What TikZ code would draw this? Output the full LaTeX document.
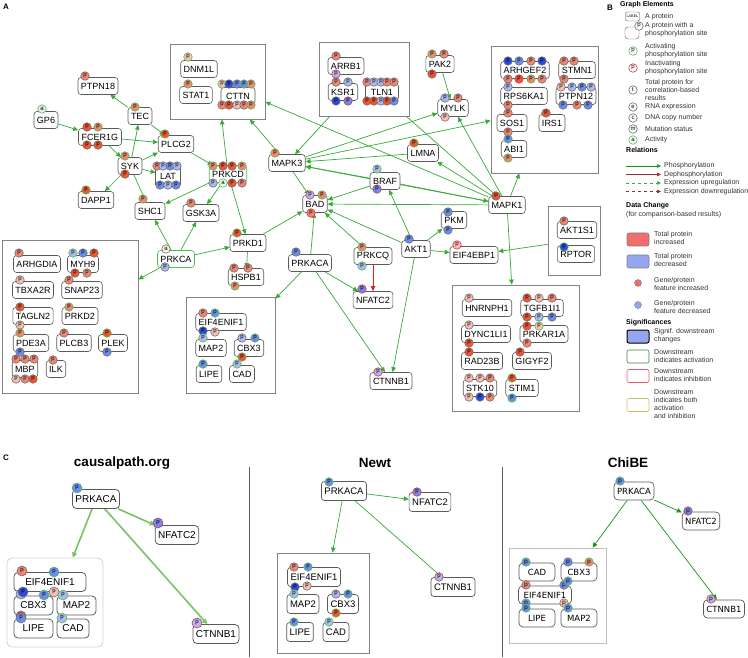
\documentclass[tikz,border=0pt]{standalone}
\usepackage{fontspec}
\setmainfont{Liberation Sans}
\newfontfamily\chibefont{DejaVu Sans}
\usepackage{xcolor}
\usetikzlibrary{arrows.meta}
\definecolor{site_red}{RGB}{240,85,50}
\definecolor{site_salmon}{RGB}{240,135,115}
\definecolor{site_pink}{RGB}{246,192,178}
\definecolor{site_navy}{RGB}{45,75,225}
\definecolor{site_blue}{RGB}{110,140,235}
\definecolor{site_sky}{RGB}{172,187,240}
\definecolor{site_gray}{RGB}{110,110,110}
\definecolor{act_green}{RGB}{80,190,80}
\definecolor{inh_red}{RGB}{220,50,70}
\definecolor{edge_green}{RGB}{55,170,55}
\definecolor{edge_red}{RGB}{230,30,30}
\definecolor{dark_red}{RGB}{150,45,45}
\definecolor{box_gray}{RGB}{130,130,130}
\definecolor{node_gray}{RGB}{90,90,90}
\definecolor{leg_text}{RGB}{50,50,50}
\definecolor{tot_red}{RGB}{240,110,110}
\definecolor{tot_blue}{RGB}{150,165,240}
\definecolor{both_yellow}{RGB}{200,190,90}
\definecolor{causal_green}{RGB}{120,195,100}
\definecolor{chibe_green}{RGB}{20,150,20}

\pgfdeclarelayer{background}
\pgfsetlayers{background,main}

\tikzset{
  prot/.style={draw=node_gray, fill=white, rounded corners=3pt, line width=0.6pt,
    minimum height=17pt, inner xsep=3pt, inner ysep=1pt, font=\fontsize{9}{10}\selectfont},
  cbox/.style={draw=box_gray, line width=0.8pt, inner sep=0pt},
  site/.style={circle, inner sep=0pt, minimum size=8.5pt, line width=0.6pt,
    font=\fontsize{6}{6}\selectfont},
  pedge/.style={draw=edge_green, line width=0.7pt, -{Triangle[length=5pt,width=4.5pt]}},
  panel/.style={font=\fontsize{8}{8}\selectfont\bfseries},
  legtext/.style={anchor=west, align=left, text=leg_text, inner sep=0pt,
    font=\fontsize{7}{8}\selectfont},
  leghead/.style={anchor=west, inner sep=0pt, font=\fontsize{7}{8}\selectfont\bfseries},
  legbox/.style={draw=gray, rounded corners=2pt, minimum width=22pt, minimum height=13pt, line width=0.6pt},
  ctitle/.style={font=\fontsize{13.5}{14}\selectfont\bfseries},
}

% phosphorylation site: [border]{x}{y}{fill}
\newcount\sitecnt
\newcommand{\site}[4][site_gray]{%
  \global\advance\sitecnt by 1
  \node[site, fill=#4, draw=#1] (site\the\sitecnt) at (#2,#3) {p};}

\begin{document}
\begin{tikzpicture}[x=1pt, y=-1pt]
\useasboundingbox (0,0) rectangle (748,658);

% Panel labels
\node[panel] (labA) at (6,7) {A};
\node[panel] (labB) at (610,8) {B};
\node[panel] (labC) at (6,458) {C};

%% ---------------- Panel A ----------------
% Complexes
\node[cbox, minimum width=95pt, minimum height=75pt] (cttnbox) at (217.5,81.5) {};
\node[cbox, minimum width=90pt, minimum height=74pt] (tlnbox) at (364,79) {};
\node[cbox, minimum width=107pt, minimum height=127pt] (mapkbox) at (544.5,109.5) {};
\node[cbox, minimum width=136pt, minimum height=153pt] (leftbox) at (70,316.5) {};
\node[cbox, minimum width=89pt, minimum height=96pt] (pkabox) at (230.5,345) {};
\node[cbox, minimum width=52pt, minimum height=69pt] (torbox) at (574,240.5) {};
\node[cbox, minimum width=127pt, minimum height=126pt] (erkbox) at (515.5,348) {};

% Proteins
\node[prot] (dnm1l) at (199,69) {DNM1L};
\node[prot] (stat1) at (196,95) {STAT1};
\node[prot, minimum width=34pt] (cttn) at (238,96) {CTTN};
\node[prot] (arrb1) at (346,66) {ARRB1};
\node[prot] (ksr1) at (343,92) {KSR1};
\node[prot, minimum width=33pt] (tln1) at (382,92) {TLN1};
\node[prot] (arhgef2) at (525,70) {ARHGEF2};
\node[prot] (stmn1) at (577,70) {STMN1};
\node[prot] (rps6ka1) at (524,96) {RPS6KA1};
\node[prot] (ptpn12) at (576,96) {PTPN12};
\node[prot] (sos1) at (512,123) {SOS1};
\node[prot] (irs1) at (552,123) {IRS1};
\node[prot] (abi1) at (514,149) {ABI1};
\node[prot] (pak2) at (440,64) {PAK2};
\node[prot] (mylk) at (453,108) {MYLK};
\node[prot] (ptpn18) at (98,86) {PTPN18};
\node[prot] (gp6) at (46,120) {GP6};
\node[prot] (tec) at (140,116) {TEC};
\node[prot, minimum width=43pt] (fcer1g) at (100,137) {FCER1G};
\node[prot] (plcg2) at (176,144) {PLCG2};
\node[prot] (syk) at (130,166) {SYK};
\node[prot, minimum width=24pt, draw=none, fill=none] (lat) at (168,176) {LAT};
\draw[node_gray, line width=0.6pt] (lat.south west) rectangle (lat.north east);
\node[prot, draw=act_green] (prkcd) at (228,174) {PRKCD};
\node[prot] (mapk3) at (287,163) {MAPK3};
\node[prot] (lmna) at (423,153) {LMNA};
\node[prot] (braf) at (385,181) {BRAF};
\node[prot] (bad) at (315,204) {BAD};
\node[prot] (mapk1) at (507,205) {MAPK1};
\node[prot] (dapp1) at (96,200) {DAPP1};
\node[prot] (shc1) at (150,211) {SHC1};
\node[prot] (gsk3a) at (201,213) {GSK3A};
\node[prot, draw=act_green] (prkca) at (176,259) {PRKCA};
\node[prot] (prkd1) at (248,243) {PRKD1};
\node[prot] (hspb1) at (246,277) {HSPB1};
\node[prot] (prkaca) at (310,263) {PRKACA};
\node[prot] (prkcq) at (373,256) {PRKCQ};
\node[prot] (nfatc2) at (373,300) {NFATC2};
\node[prot] (ctnnb1) at (391,381) {CTNNB1};
\node[prot] (akt1) at (416,249) {AKT1};
\node[prot] (pkm) at (454,220) {PKM};
\node[prot] (eif4ebp1) at (474,255) {EIF4EBP1};
\node[prot] (akt1s1) at (577,230) {AKT1S1};
\node[prot] (rptor) at (576,254) {RPTOR};
\node[prot] (arhgdia) at (37,264) {ARHGDIA};
\node[prot] (myh9) at (83,264) {MYH9};
\node[prot] (tbxa2r) at (33,290) {TBXA2R};
\node[prot] (snap23) at (82,290) {SNAP23};
\node[prot] (tagln2) at (33,316) {TAGLN2};
\node[prot] (prkd2) at (80,316) {PRKD2};
\node[prot] (pde3a) at (31,343) {PDE3A};
\node[prot] (plcb3) at (74,343) {PLCB3};
\node[prot] (plek) at (113,343) {PLEK};
\node[prot, minimum width=25pt] (mbp) at (25,369) {MBP};
\node[prot] (ilk) at (56,369) {ILK};
\node[prot] (eif4enif1) at (221,322) {EIF4ENIF1};
\node[prot] (map2) at (211,348) {MAP2};
\node[prot] (cbx3) at (249,348) {CBX3};
\node[prot] (lipe) at (209,374) {LIPE};
\node[prot] (cad) at (242,374) {CAD};
\node[prot] (hnrnph1) at (487,308) {HNRNPH1};
\node[prot] (tgfb1i1) at (542,308) {TGFB1I1};
\node[prot] (dync1li1) at (486,334) {DYNC1LI1};
\node[prot] (prkar1a) at (544,334) {PRKAR1A};
\node[prot] (rad23b) at (482,361) {RAD23B};
\node[prot] (gigyf2) at (532,361) {GIGYF2};
\node[prot] (stk10) at (480,388) {STK10};
\node[prot] (stim1) at (522,388) {STIM1};

% Sites
\site[act_green]{188}{57}{site_pink}
\site[act_green]{188}{84}{site_salmon}
\site[act_green]{222}{84}{site_pink} \site{229}{84}{site_navy} \site{237}{84}{site_blue}
\site[act_green]{244}{84}{site_blue} \site[act_green]{251}{84}{site_salmon}
\site{222}{105}{site_salmon} \site{229}{105}{site_red} \site{237}{105}{site_pink}
\site{244}{105}{site_salmon} \site[act_green]{251}{105}{site_salmon}
\site{336}{56}{site_salmon} \site[inh_red]{336}{74}{site_sky}
\site{336}{82}{site_salmon} \site{348}{82}{site_sky} \site{336}{101}{site_navy} \site[inh_red]{348}{101}{site_blue}
\site{367}{82}{site_salmon} \site{374}{82}{site_sky} \site{381}{82}{site_sky} \site{387}{82}{site_salmon} \site{394}{82}{site_salmon}
\site{367}{101}{site_red} \site{374}{101}{site_red} \site{381}{101}{site_sky} \site{387}{101}{site_red} \site{394}{101}{site_blue}
\site[act_green]{432}{54}{site_salmon} \site{444}{54}{site_salmon} \site{432}{74}{site_red}
\site{445}{98}{site_sky} \site{458}{98}{site_salmon} \site{445}{117}{site_pink}
\site{508}{61}{site_navy} \site{519}{61}{site_blue} \site{531}{61}{site_salmon} \site{542}{61}{site_navy}
\site{508}{79}{site_salmon} \site[inh_red]{519}{79}{site_red} \site[act_green]{531}{79}{site_salmon} \site{542}{79}{site_salmon}
\site{564}{61}{site_salmon} \site{574}{61}{site_salmon} \site{564}{79}{site_salmon}
\site{508}{87}{site_sky} \site{508}{105}{site_salmon}
\site{561}{87}{site_pink} \site{572}{87}{site_sky} \site{582}{87}{site_blue} \site{591}{87}{site_sky}
\site{563}{105}{site_blue} \site{577}{105}{site_salmon} \site{588}{105}{site_blue}
\site{508}{113}{site_salmon} \site{508}{132}{site_salmon} \site{546}{113}{site_red}
\site[act_green]{508}{139}{site_blue} \site[act_green]{508}{158}{site_salmon}
\site{85}{76}{site_salmon}
\node[site, fill=white!92!black, draw=act_green] (gp6act) at (42,109) {a};
\site[act_green]{135}{107}{site_salmon}
\site{87}{127}{site_red} \site[act_green]{98}{127}{site_salmon} \site{87}{145}{site_red} \site{98}{145}{site_red}
\site[act_green]{165}{134}{site_red}
\site[act_green]{125}{156}{site_salmon} \site{125}{174}{site_red}
\site{157}{166}{site_salmon} \site{163}{166}{site_sky} \site{170}{166}{site_blue} \site{177}{166}{site_sky}
\site{160}{185}{site_blue} \site{168}{185}{site_sky} \site{176}{185}{site_blue}
\site[act_green]{213}{166}{site_salmon} \site{223}{166}{site_red} \site{232}{166}{site_red} \site[act_green]{242}{166}{site_salmon}
\site{213}{183}{site_sky}
\node[site, fill=green!8, draw=act_green] (prkcdact) at (223,183) {a};
\site{232}{183}{site_red} \site{242}{183}{site_salmon}
\site[act_green]{275}{153}{site_salmon}
\site[act_green]{414}{143}{site_red}
\site[act_green]{377}{169}{site_sky} \site[inh_red]{377}{189}{site_blue}
\site[inh_red]{310}{195}{site_sky} \site[act_green]{322}{195}{site_salmon} \site[inh_red]{311}{213}{site_salmon}
\site[act_green]{86}{190}{site_red}
\site[act_green]{143}{199}{site_salmon}
\site{191}{203}{site_salmon}
\node[site, fill=orange!10, draw=site_gray] (prkcaact) at (166,249) {a};
\site{165}{267}{site_sky}
\site[act_green]{237}{233}{site_red}
\site{234}{268}{site_salmon} \site{248}{268}{site_salmon} \site[act_green]{235}{286}{site_salmon}
\site{296}{252}{site_blue}
\site[act_green]{362}{247}{site_salmon} \site[act_green]{362}{266}{site_sky}
\site[inh_red]{362}{289}{site_blue}
\site[inh_red]{378}{372}{site_sky}
\site{409}{239}{site_blue}
\site{448}{212}{site_blue} \site{448}{230}{site_blue}
\site[inh_red]{457}{245}{site_pink}
\site{496}{196}{site_red}
\site{564}{221}{site_salmon}
\site[act_green]{564}{247}{site_navy}
\site{19}{253}{site_salmon}
\site[act_green]{73}{253}{site_sky} \site{83}{253}{site_blue} \site{94}{253}{site_red}
\site{75}{273}{site_red} \site{87}{273}{site_salmon}
\site{20}{280}{site_pink} \site{69}{280}{site_salmon}
\site{20}{307}{site_red} \site{20}{325}{site_pink} \site[act_green]{69}{307}{site_salmon}
\site[act_green]{20}{333}{site_salmon} \site{20}{352}{site_blue} \site{64}{333}{site_salmon}
\site[act_green]{107}{333}{site_red} \site{107}{352}{site_blue}
\site{16}{359}{site_salmon} \site{25}{359}{site_salmon} \site{34}{359}{site_salmon}
\site{16}{379}{site_pink} \site{25}{379}{site_salmon} \site{33}{379}{site_red}
\site{53}{360}{site_salmon}
\site{203}{313}{site_salmon} \site[act_green]{215}{313}{site_blue} \site{203}{331}{site_navy} \site{215}{332}{site_pink}
\site[act_green]{203}{338}{site_sky}
\site{242}{338}{site_sky} \site[act_green]{255}{338}{site_blue} \site[act_green]{242}{357}{site_red}
\site[act_green]{203}{364}{site_blue}
\site[act_green]{237}{364}{site_sky}
\site{469}{298}{site_pink}
\site{527}{298}{site_red} \site{539}{298}{site_pink} \site{552}{298}{site_salmon}
\site{527}{317}{site_red} \site{539}{317}{site_sky} \site{552}{317}{site_blue}
\site{469}{325}{site_pink} \site{469}{343}{site_red}
\site{527}{326}{site_red} \site[act_green]{539}{326}{site_pink} \site{527}{343}{site_salmon}
\site{469}{352}{site_red} \site{520}{352}{site_red}
\site{469}{378}{site_pink} \site{480}{378}{site_pink} \site{490}{378}{site_salmon}
\site{469}{397}{site_pink} \site{480}{397}{site_navy} \site{490}{397}{site_salmon}
\site[act_green]{512}{378}{site_red} \site[act_green]{512}{398}{site_blue}

% Relations
\begin{pgfonlayer}{background}
\draw[pedge] (gp6) -- (fcer1g);
\draw[pedge] (tec) -- (ptpn18);
\draw[pedge] (tec) -- (plcg2);
\draw[pedge] (fcer1g) -- (plcg2);
\draw[pedge] (fcer1g) -- (syk);
\draw[pedge] (syk) -- (tec);
\draw[pedge] (syk) -- (plcg2);
\draw[pedge] (syk) -- (lat);
\draw[pedge] (syk) -- (dapp1);
\draw[pedge] (syk) -- (shc1);
\draw[pedge] (plcg2) -- (prkcd);
\draw[pedge] (prkcd) -- (cttnbox);
\draw[pedge] (prkcd) -- (shc1);
\draw[pedge] (prkcd) -- (gsk3a);
\draw[pedge] (prkcd) -- (prkd1);
\draw[pedge] (prkca) -- (shc1);
\draw[pedge] (prkca) -- (gsk3a);
\draw[pedge] (prkca) -- (prkd1);
\draw[pedge] (prkca) -- (leftbox);
\draw[pedge] (prkd1) -- (hspb1);
\draw[pedge] (prkd1) -- (bad);
\draw[pedge] (prkaca) -- (bad);
\draw[pedge] (prkaca) -- (pkabox);
\draw[pedge] (prkaca) -- (nfatc2);
\draw[pedge] (prkaca) -- (ctnnb1);
\draw[pedge] (prkcq) -- (bad);
\draw[pedge, draw=edge_red] (prkcq) -- (nfatc2);
\draw[pedge] (akt1) -- (bad);
\draw[pedge] (akt1) -- (braf);
\draw[pedge] (akt1) -- (pkm);
\draw[pedge] (akt1) -- (eif4ebp1);
\draw[pedge] (akt1) -- (ctnnb1);
\draw[pedge] (braf) -- (bad);
\draw[pedge] (braf) -- (mapk3);
\draw[pedge] (braf) -- (mapk1);
\draw[pedge] (mapk1) -- (bad);
\draw[pedge] (mapk1) -- (mapk3);
\draw[pedge] (mapk3) -- (bad);
\draw[pedge] (mapk3) -- (cttnbox);
\draw[pedge] (mapk3) -- (mylk);
\draw[pedge] (mapk3) -- (mapkbox);
\draw[pedge] (lmna) -- (mapk3);
\draw[pedge] (tlnbox) -- (mapk3);
\draw[pedge] (tlnbox) -- (mapk1);
\draw[pedge] (mapk1) -- (cttnbox);
\draw[pedge] (mapk1) -- (mylk);
\draw[pedge] (mapk1) -- (lmna);
\draw[pedge] (mapk1) -- (mapkbox);
\draw[pedge] (mapk1) -- (erkbox);
\draw[pedge] (pak2) -- (mylk);
\draw[pedge] (torbox) -- (eif4ebp1);
\end{pgfonlayer}

%% ---------------- Panel B (legend) ----------------
\node[leghead] (hgraph) at (620,5) {Graph Elements};
\node[prot, minimum height=9pt, minimum width=14pt, inner sep=0pt, rounded corners=2pt,
  line width=0.4pt, font=\fontsize{3.8}{4}\selectfont] (leglabel) at (632.5,16.5) {LABEL};
\node[legtext] (tprot) at (645,16.5) {A protein};
\node[prot, minimum height=12pt, minimum width=14pt, line width=0.4pt] (legphos) at (632,33) {};
\node[site, fill=white, draw=site_gray] (legsite) at (639,26) {p};
\node[legtext] (tphos) at (645,30) {A protein with a\\phosphorylation site};
\node[site, fill=white, draw=act_green] (legact) at (633,51) {p};
\node[legtext] (tact) at (645,51) {Activating\\phosphorylation site};
\node[site, fill=white, draw=inh_red] (leginh) at (633,68) {p};
\node[legtext] (tinh) at (645,68) {Inactivating\\phosphorylation site};
\node[site, fill=white, draw=site_gray] (legt) at (633,90) {t};
\node[legtext] (tt) at (645,90) {Total protein for\\correlation-based\\results};
\node[site, fill=white, draw=site_gray] (lege) at (633,107) {e};
\node[legtext] (te) at (645,107) {RNA expression};
\node[site, fill=white, draw=site_gray] (legc) at (633,118) {c};
\node[legtext] (tc) at (645,118) {DNA copy number};
\node[site, fill=white, draw=site_gray] (legm) at (633,129) {m};
\node[legtext] (tm) at (645,129) {Mutation status};
\node[site, fill=white, draw=act_green] (lega) at (633,140) {a};
\node[legtext] (ta) at (645,140) {Activity};

\node[leghead] (hrel) at (626,150) {Relations};
\draw[draw=chibe_green, line width=0.6pt, -{Triangle[length=4pt,width=3.5pt]}] (626,166) -- (661,166);
\node[legtext] (trel1) at (664,166) {Phosphorylation};
\draw[draw=dark_red, line width=0.6pt, -{Triangle[length=4pt,width=3.5pt]}] (626,174.5) -- (661,174.5);
\node[legtext] (trel2) at (664,174.5) {Dephosphorylation};
\draw[draw=edge_green, dashed, line width=0.6pt, -{Triangle[length=4pt,width=3.5pt]}] (626,183) -- (661,183);
\node[legtext] (trel3) at (664,183) {Expression upregulation};
\draw[draw=dark_red, dashed, line width=0.6pt, -{Triangle[length=4pt,width=3.5pt]}] (626,191.5) -- (661,191.5);
\node[legtext] (trel4) at (664,191.5) {Expression downregulation};

\node[leghead] (hdata) at (626,206) {Data Change};
\node[legtext] (tdata) at (626,214.5) {(for comparison-based results)};
\node[legbox, fill=tot_red] (legred) at (638,239.5) {};
\node[legtext] (tred) at (654,238) {Total protein\\increased};
\node[legbox, fill=tot_blue] (legblue) at (638,261.5) {};
\node[legtext] (tblue) at (654,260) {Total protein\\decreased};
\node[circle, draw=gray, fill=tot_red, minimum size=7pt, inner sep=0pt] (legfred) at (638,283) {};
\node[legtext] (tfred) at (654,284) {Gene/protein\\feature increased};
\node[circle, draw=gray, fill=tot_blue, minimum size=7pt, inner sep=0pt] (legfblue) at (638,305) {};
\node[legtext] (tfblue) at (654,306.5) {Gene/protein\\feature decreased};

\node[leghead] (hsig) at (626,323) {Significances};
\node[legbox, fill=tot_blue, draw=black, line width=1pt] (legsig) at (638,336.5) {};
\node[legtext] (tsig) at (654,335.5) {Signif. downstream\\changes};
\node[legbox, fill=white, draw=act_green!70!black] (legdact) at (638,356.5) {};
\node[legtext] (tdact) at (654,356) {Downstream\\indicates activation};
\node[legbox, fill=white, draw=inh_red!80] (legdinh) at (638,376) {};
\node[legtext] (tdinh) at (654,375.5) {Downstream\\indicates inhibition};
\node[legbox, fill=white, draw=both_yellow] (legdboth) at (638,405) {};
\node[legtext] (tdboth) at (654,404) {Downstream\\indicates both\\activation\\and inhibition};

%% ---------------- Panel C ----------------
\node[ctitle] (tcausal) at (122,463) {causalpath.org};
\node[ctitle] (tnewt) at (375,463) {Newt};
\node[ctitle] (tchibe) at (628,463) {ChiBE};
\draw[node_gray, line width=0.8pt] (249,467) -- (249,657);
\draw[node_gray, line width=0.8pt] (502,467) -- (502,657);

% causalpath.org
\begin{scope}[prot/.append style={font=\fontsize{10}{11}\selectfont, minimum height=19pt, line width=0.8pt, rounded corners=4pt},
  site/.append style={minimum size=10pt}]
\node[draw=gray!35, line width=0.8pt, rounded corners=5pt, minimum width=96pt, minimum height=89pt] (cpbox) at (55,602.5) {};
\node[prot] (cpprkaca) at (96,499) {PRKACA};
\node[prot] (cpnfatc2) at (177,535) {NFATC2};
\node[prot] (cpctnnb1) at (216,634) {CTNNB1};
\node[prot, minimum width=72pt] (cpeif) at (50,582) {EIF4ENIF1};
\node[prot, minimum width=39pt] (cpcbx3) at (33.5,605.5) {CBX3};
\node[prot, minimum width=39pt] (cpmap2) at (76.5,605.5) {MAP2};
\node[prot, minimum width=39pt] (cplipe) at (33.5,628.5) {LIPE};
\node[prot, minimum width=32pt] (cpcad) at (73,628.5) {CAD};
\site[act_green]{77}{488}{site_blue}
\site[inh_red]{158}{523}{site_blue}
\site[inh_red]{197}{623}{site_sky}
\site{22}{571}{site_salmon} \site[act_green]{54}{572}{site_blue}
\site{21}{594}{site_sky} \site{23}{592}{site_navy} \site[act_green]{44}{595}{site_blue}
\site{54}{592}{site_pink} \site[act_green]{63}{595}{site_sky}
\site{21}{616}{site_red} \site{21}{618}{site_blue}
\site[act_green]{62}{618}{site_sky}
\begin{pgfonlayer}{background}
\draw[pedge, draw=causal_green, line width=1.6pt, -{Triangle[length=5pt,width=5pt]}] (cpprkaca) -- (cpbox);
\draw[pedge, draw=causal_green, line width=1.6pt, -{Triangle[length=5pt,width=5pt]}] (cpprkaca) -- (cpnfatc2);
\draw[pedge, draw=causal_green, line width=1.6pt, -{Triangle[length=5pt,width=5pt]}] (cpprkaca) -- (cpctnnb1);
\end{pgfonlayer}
\end{scope}

% Newt
\begin{scope}[prot/.append style={font=\fontsize{9.5}{10}\selectfont, minimum height=19pt, line width=0.7pt}]
\node[cbox] at (323,603) [minimum width=92pt, minimum height=100pt] (nwbox) {};
\node[prot] (nwprkaca) at (344,491) {PRKACA};
\node[prot] (nwnfatc2) at (430,502) {NFATC2};
\node[prot] (nwctnnb1) at (453,587) {CTNNB1};
\node[prot] (nweif) at (314,577) {EIF4ENIF1};
\node[prot] (nwmap2) at (303,604) {MAP2};
\node[prot] (nwcbx3) at (343,604) {CBX3};
\node[prot] (nwlipe) at (300,632) {LIPE};
\node[prot] (nwcad) at (336,632) {CAD};
\site[act_green]{329}{482}{site_blue}
\site[inh_red]{417}{492}{site_blue}
\site[inh_red]{439}{577}{site_sky}
\site{294}{567}{site_salmon} \site[act_green]{308}{567}{site_blue} \site{295}{587}{site_navy} \site{307}{586}{site_pink}
\site[act_green]{294}{594}{site_sky}
\site{336}{594}{site_sky} \site[act_green]{348}{594}{site_blue} \site[act_green]{336}{613}{site_red}
\site[act_green]{294}{622}{site_blue}
\site[act_green]{329}{622}{site_sky}
\begin{pgfonlayer}{background}
\draw[pedge] (nwprkaca) -- (nwbox);
\draw[pedge] (nwprkaca) -- (nwnfatc2);
\draw[pedge] (nwprkaca) -- (nwctnnb1);
\end{pgfonlayer}
\end{scope}

% ChiBE
\begin{scope}[prot/.append style={font=\chibefont\fontsize{8.5}{9}\selectfont, minimum height=18pt, line width=0.7pt, rounded corners=4pt},
  site/.append style={font=\chibefont\fontsize{6}{6}\selectfont}]
\node[draw=gray!50, line width=0.8pt, minimum width=97pt, minimum height=95pt] (cbbox) at (557.5,595.5) {};
\node[prot] (cbprkaca) at (634,491) {PRKACA};
\node[prot] (cbnfatc2) at (701,521) {NFATC2};
\node[prot] (cbctnnb1) at (724,609) {CTNNB1};
\node[prot, minimum width=36pt] (cbcad) at (537,572) {CAD};
\node[prot, minimum width=36pt] (cbcbx3) at (579,572) {CBX3};
\node[prot, minimum width=53pt] (cbeif) at (545,595) {EIF4ENIF1};
\node[prot, minimum width=36pt] (cblipe) at (537,618) {LIPE};
\node[prot, minimum width=36pt] (cbmap2) at (579,618) {MAP2};
\site[act_green]{620}{481}{site_blue}
\site[inh_red]{688}{511}{site_blue}
\site[inh_red]{711}{599}{site_sky}
\site[act_green]{526}{562}{site_blue}
\site{568}{562}{site_blue} \site[act_green]{589}{562}{site_salmon}
\site{526}{585}{site_salmon} \site{564}{585}{site_blue} \site[act_green]{568}{581}{site_blue}
\site[act_green]{526}{603}{site_blue} \site[act_green]{526}{608}{site_blue}
\site{564}{603}{site_pink} \site[act_green]{568}{608}{site_blue}
\begin{pgfonlayer}{background}
\draw[pedge, draw=chibe_green] (cbprkaca) -- (cbbox);
\draw[pedge, draw=chibe_green] (cbprkaca) -- (cbnfatc2);
\draw[pedge, draw=chibe_green] (cbprkaca) -- (cbctnnb1);
\end{pgfonlayer}
\end{scope}
\end{tikzpicture}
\end{document}
